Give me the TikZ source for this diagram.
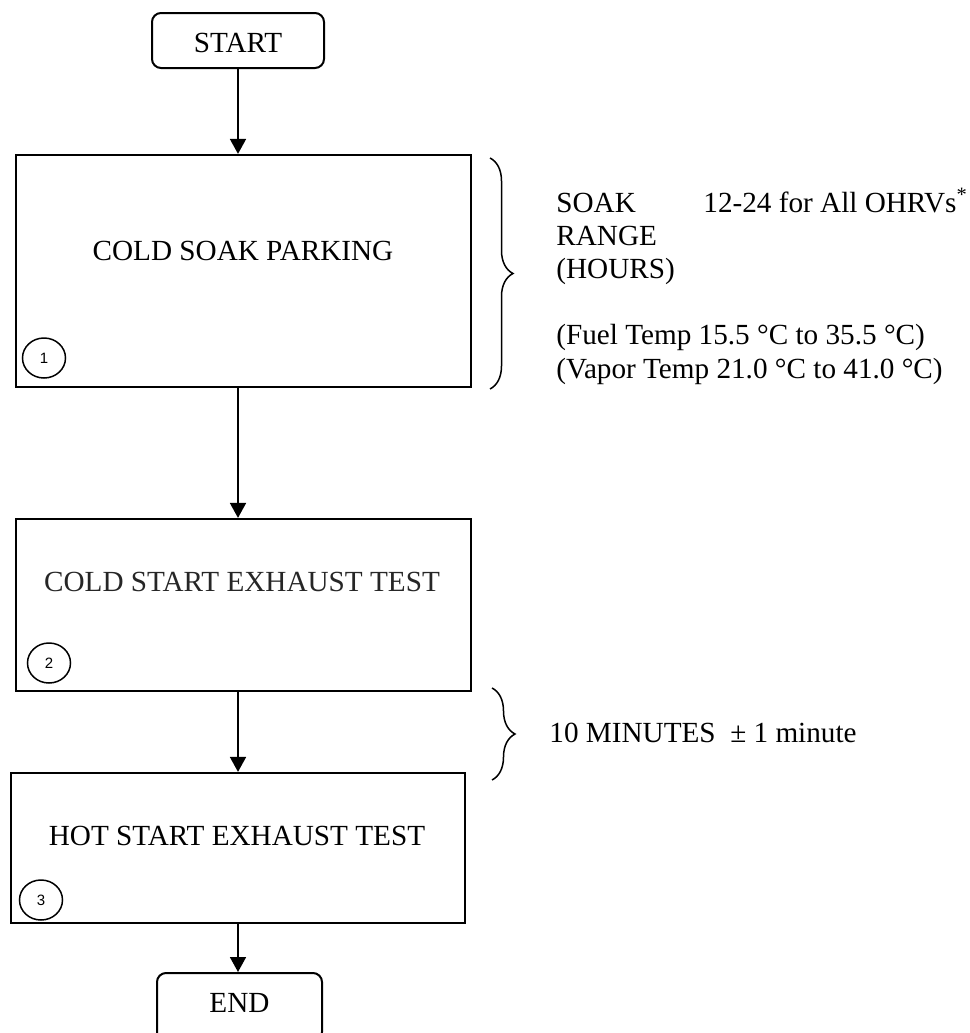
\documentclass[tikz,border=0pt]{standalone}
\usepackage{fontspec}
\setmainfont{Liberation Serif}
\newfontfamily\numfont{Liberation Sans}
\usetikzlibrary{arrows.meta,decorations.pathreplacing,shapes.geometric}
\begin{document}
\begin{tikzpicture}[x=0.5pt,y=-0.5pt,
  every node/.style={font=\fontsize{14.6}{16.8}\selectfont, inner sep=0pt},
  stepbox/.style={draw, line width=1.1pt, rectangle},
  termbox/.style={draw, line width=1pt, rectangle, rounded corners=4.5pt},
  numcirc/.style={draw, line width=0.75pt, ellipse, minimum width=21.5pt, minimum height=20pt,
                  font=\numfont\fontsize{7.5}{8}\selectfont},
  flow/.style={line width=0.9pt, -{Triangle[length=7.5pt,width=8pt]}},
  bracepath/.style={line width=0.75pt, decorate, decoration={brace, amplitude=11.5pt}},
  side/.style={anchor=base west}
]
\useasboundingbox (0,0) rectangle (969,1033);
\clip (0,0) rectangle (969,1033);

% terminals
\node[termbox, minimum width=86pt, minimum height=27.5pt] (start) at (238,40.5) {};
\node (starttxt) at (238,43) {START};
\node[termbox, minimum width=82.5pt, minimum height=34pt] (end) at (239.5,1007) {};
\node (endtxt) at (239.5,1003) {END};

% step boxes
\node[stepbox, minimum width=227.5pt, minimum height=116pt] (b1) at (243.5,271) {};
\node (t1) at (243,251) {COLD SOAK PARKING};
\node[numcirc] (c1) at (44,358) {1};

\node[stepbox, minimum width=227.5pt, minimum height=86pt] (b2) at (243.5,605) {};
\node[text=black!85] (t2) at (242,582) {COLD START EXHAUST TEST};
\node[numcirc] (c2) at (49,663) {2};

\node[stepbox, minimum width=227pt, minimum height=75pt] (b3) at (238,848) {};
\node (t3) at (237,836) {HOT START EXHAUST TEST};
\node[numcirc] (c3) at (41,900) {3};

% connectors
\draw[flow] (start.south) -- (start.south |- b1.north);
\draw[flow] (start.south |- b1.south) -- (start.south |- b2.north);
\draw[flow] (start.south |- b2.south) -- (start.south |- b3.north);
\draw[flow] (start.south |- b3.south) -- (start.south |- end.north);

% braces
\coordinate (br1a) at (490,158);
\coordinate (br1b) at (490,389);
\draw[bracepath] (br1a) -- (br1b);
\coordinate (br2a) at (492,688);
\coordinate (br2b) at (492,780);
\draw[bracepath] (br2a) -- (br2b);

% side texts
\node[side] (soak) at (556,212) {SOAK};
\node[side] (range) at (703,212) {12-24 for All OHRVs\textsuperscript{*}};
\node[side] (rng) at (556,245) {RANGE};
\node[side] (hrs) at (556,278) {(HOURS)};
\node[side] (fuel) at (556,344) {(Fuel Temp 15.5 °C to 35.5 °C)};
\node[side] (vap) at (556,378) {(Vapor Temp 21.0 °C to 41.0 °C)};
\node[side] (mins) at (549,742) {10 MINUTES\ \ ± 1 minute};
\end{tikzpicture}
\end{document}
